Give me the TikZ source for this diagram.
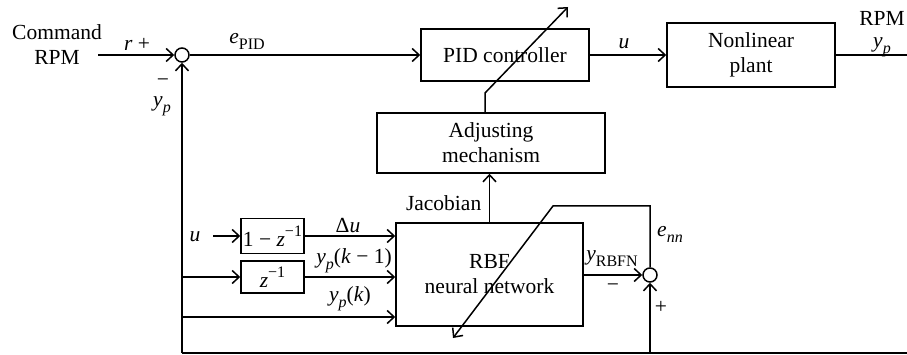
\documentclass[tikz,border=0pt]{standalone}
\usepackage{fontspec}
\setmainfont{Liberation Serif}
\usetikzlibrary{arrows.meta}
% sub- and superscripts set a little larger than \textsubscript
\newcommand\sbs[1]{\raisebox{-0.28em}{\fontsize{16}{16}\selectfont #1}}
\newcommand\sps[1]{\raisebox{0.45em}{\fontsize{16}{16}\selectfont #1}}
\newcommand\ysub[1]{\textit{y}\sbs{#1}}
\begin{document}
\begin{tikzpicture}[x=1pt,y=-1pt,
  line width=1.5pt,
  >={Straight Barb[length=7pt,width=13pt]},
  every node/.style={font=\fontsize{21.5}{25}\selectfont, inner sep=0pt},
  blk/.style={draw, rectangle, align=center},
  sumj/.style={draw, circle, minimum size=14pt, inner sep=0pt}]
\useasboundingbox (0,0) rectangle (907,355);

% forward path
\node[align=center] (cmd) at (57,45) {Command\\RPM};
\coordinate (rin) at (98,55);
\node[sumj] (s1) at (182,55) {};
\node[blk, minimum width=168pt, minimum height=52pt] (pid) at (505,55) {PID controller};
\node[blk, minimum width=168pt, minimum height=64pt] (plant) at (751,55) {Nonlinear\\plant};
\coordinate (yout) at (907,55);

% adaptation blocks
\node[blk, minimum width=228pt, minimum height=60pt] (adj) at (491,143) {Adjusting\\mechanism};
\node[blk, minimum width=187pt, minimum height=103pt] (rbf) at (489.5,274.5) {RBF\\neural network};
\node[sumj] (s2) at (650,275) {};
\node[blk, minimum width=63pt, minimum height=35pt] (d1) at (272.5,236) {1 − \textit{z}\sps{−1}};
\node[blk, minimum width=63pt, minimum height=32pt] (d2) at (272.5,277) {\textit{z}\sps{−1}};

% helper points
\coordinate (uin) at (213,236);
\coordinate (fbL) at (182,353);
\coordinate (fbR) at (907,353);
\coordinate (fb2) at (650,353);
\coordinate (b1) at (182,277);
\coordinate (b2) at (182,317);
\coordinate (kn1) at (485,93);
\coordinate (tip1) at (568,7);
\coordinate (kn2) at (650,206);
\coordinate (kn3) at (553,206);
\coordinate (tip2) at (453,338);

% connectors
\draw[->] (rin) -- (s1);
\draw[->] (s1) -- (pid);
\draw[->] (pid) -- (plant);
\draw (plant) -- (yout);
\draw (fbR) -- (fbL);
\draw[->] (fbL) -- (s1.south);
\draw[->] (fb2) -- (s2.south);
\draw[->] (uin) -- (d1.west);
\draw[->] (d1.east) -- (d1.east -| rbf.west);
\draw[->] (b1) -- (d2.west);
\draw[->] (d2.east) -- (d2.east -| rbf.west);
\draw[->] (b2) -- (b2 -| rbf.west);
\draw[->] (rbf.east |- s2.west) -- (s2.west);
\draw[->] (rbf.north) -- (rbf.north |- adj.south);
\draw[->] (adj.north -| kn1) -- (kn1) -- (tip1);
\draw[->] (s2.north) -- (kn2) -- (kn3) -- (tip2);

% labels
\node at (137,44) {\textit{r} +};
\node at (247,41) {\textit{e}\sbs{PID}};
\node at (624,44) {\textit{u}};
\node at (882,18) {RPM};
\node at (882,47) {\ysub{\textit{p}}};
\node at (163,83) {−};
\node at (162,106) {\ysub{\textit{p}}};
\node[anchor=east] at (482,203) {Jacobian};
\node at (195,237) {\textit{u}};
\node at (348,226) {Δ\textit{u}};
\node at (354,261) {\ysub{\textit{p}}(\textit{k} − 1)};
\node at (350,299) {\ysub{\textit{p}}(\textit{k})};
\node at (612,259) {\ysub{RBFN}};
\node at (613,288) {−};
\node at (670,234) {\textit{e}\sbs{\textit{nn}}};
\node at (661,307) {+};
\end{tikzpicture}
\end{document}
